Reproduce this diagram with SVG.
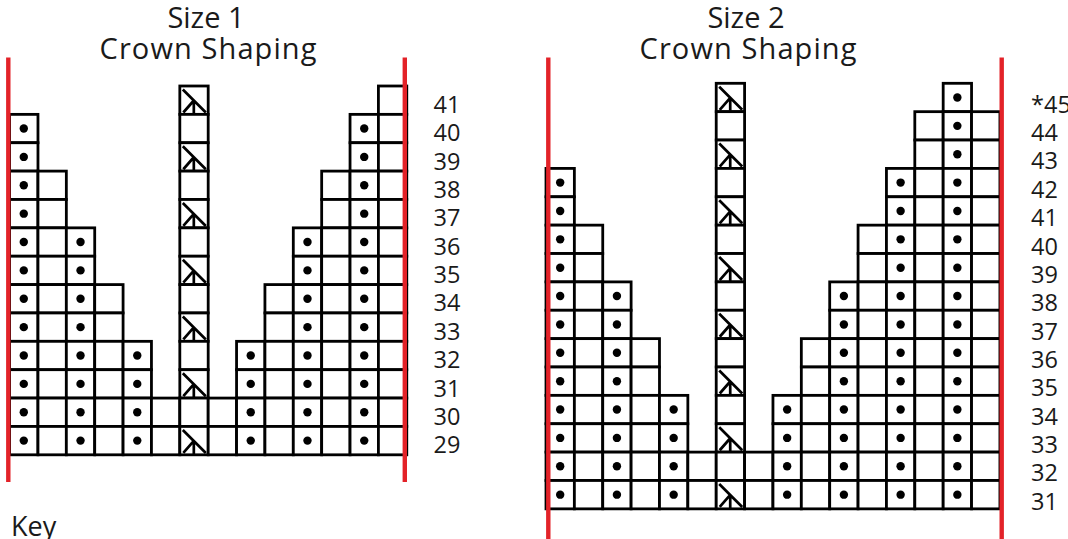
<svg xmlns="http://www.w3.org/2000/svg" xmlns:xlink="http://www.w3.org/1999/xlink" width="1068" height="539" viewBox="0 0 1068 539">
<style>
.cell{fill:#fff;stroke:#000;stroke-width:2.8}
.sym{fill:none;stroke:#000;stroke-width:2.7}
.dot{fill:#000}
.red{stroke:#e32228;stroke-width:4.4}
.t{font-family:"Open Sans","Liberation Sans",sans-serif;fill:#1a1a1a}
.title{font-size:29px;text-anchor:middle}
.lab{font-size:23.5px}
</style>
<defs>
<rect id="b" width="28.37" height="28.37" class="cell"/>
<g id="d"><use href="#b"/><circle cx="14.18" cy="14.18" r="4.2" class="dot"/></g>
<g id="s"><use href="#b"/><path d="M3,3.5 L26,26.5 M14,14.5 L3.5,26.5 M14,14.5 V27.5" class="sym"/></g>
</defs>
<rect width="1068" height="539" fill="#fff"/>

<g id="size1">
<g id="size1-title" class="t title">
<text x="206" y="28">Size 1</text>
<text x="208" y="58.5" textLength="217" lengthAdjust="spacing">Crown Shaping</text>
</g>
<g id="size1-grid" transform="translate(9.6,86)">
<g><use href="#s" x="170.22"/><use href="#b" x="368.81"/></g>
<g transform="translate(0,28.37)"><use href="#d"/><use href="#b" x="170.22"/><use href="#d" x="340.44"/><use href="#b" x="368.81"/></g>
<g transform="translate(0,56.74)"><use href="#d"/><use href="#s" x="170.22"/><use href="#d" x="340.44"/><use href="#b" x="368.81"/></g>
<g transform="translate(0,85.11)"><use href="#d"/><use href="#b" x="28.37"/><use href="#b" x="170.22"/><use href="#b" x="312.07"/><use href="#d" x="340.44"/><use href="#b" x="368.81"/></g>
<g transform="translate(0,113.48)"><use href="#d"/><use href="#b" x="28.37"/><use href="#s" x="170.22"/><use href="#b" x="312.07"/><use href="#d" x="340.44"/><use href="#b" x="368.81"/></g>
<g transform="translate(0,141.85)"><use href="#d"/><use href="#b" x="28.37"/><use href="#d" x="56.74"/><use href="#b" x="170.22"/><use href="#d" x="283.7"/><use href="#b" x="312.07"/><use href="#d" x="340.44"/><use href="#b" x="368.81"/></g>
<g transform="translate(0,170.22)"><use href="#d"/><use href="#b" x="28.37"/><use href="#d" x="56.74"/><use href="#s" x="170.22"/><use href="#d" x="283.7"/><use href="#b" x="312.07"/><use href="#d" x="340.44"/><use href="#b" x="368.81"/></g>
<g transform="translate(0,198.59)"><use href="#d"/><use href="#b" x="28.37"/><use href="#d" x="56.74"/><use href="#b" x="85.11"/><use href="#b" x="170.22"/><use href="#b" x="255.33"/><use href="#d" x="283.7"/><use href="#b" x="312.07"/><use href="#d" x="340.44"/><use href="#b" x="368.81"/></g>
<g transform="translate(0,226.96)"><use href="#d"/><use href="#b" x="28.37"/><use href="#d" x="56.74"/><use href="#b" x="85.11"/><use href="#s" x="170.22"/><use href="#b" x="255.33"/><use href="#d" x="283.7"/><use href="#b" x="312.07"/><use href="#d" x="340.44"/><use href="#b" x="368.81"/></g>
<g transform="translate(0,255.33)"><use href="#d"/><use href="#b" x="28.37"/><use href="#d" x="56.74"/><use href="#b" x="85.11"/><use href="#d" x="113.48"/><use href="#b" x="170.22"/><use href="#d" x="226.96"/><use href="#b" x="255.33"/><use href="#d" x="283.7"/><use href="#b" x="312.07"/><use href="#d" x="340.44"/><use href="#b" x="368.81"/></g>
<g transform="translate(0,283.7)"><use href="#d"/><use href="#b" x="28.37"/><use href="#d" x="56.74"/><use href="#b" x="85.11"/><use href="#d" x="113.48"/><use href="#s" x="170.22"/><use href="#d" x="226.96"/><use href="#b" x="255.33"/><use href="#d" x="283.7"/><use href="#b" x="312.07"/><use href="#d" x="340.44"/><use href="#b" x="368.81"/></g>
<g transform="translate(0,312.07)"><use href="#d"/><use href="#b" x="28.37"/><use href="#d" x="56.74"/><use href="#b" x="85.11"/><use href="#d" x="113.48"/><use href="#b" x="141.85"/><use href="#b" x="170.22"/><use href="#b" x="198.59"/><use href="#d" x="226.96"/><use href="#b" x="255.33"/><use href="#d" x="283.7"/><use href="#b" x="312.07"/><use href="#d" x="340.44"/><use href="#b" x="368.81"/></g>
<g transform="translate(0,340.44)"><use href="#d"/><use href="#b" x="28.37"/><use href="#d" x="56.74"/><use href="#b" x="85.11"/><use href="#d" x="113.48"/><use href="#b" x="141.85"/><use href="#s" x="170.22"/><use href="#b" x="198.59"/><use href="#d" x="226.96"/><use href="#b" x="255.33"/><use href="#d" x="283.7"/><use href="#b" x="312.07"/><use href="#d" x="340.44"/><use href="#b" x="368.81"/></g>
<g class="t lab">
<text x="423.9" y="26.87">41</text>
<text x="423.9" y="55.24">40</text>
<text x="423.9" y="83.61">39</text>
<text x="423.9" y="111.98">38</text>
<text x="423.9" y="140.35">37</text>
<text x="423.9" y="168.72">36</text>
<text x="423.9" y="197.09">35</text>
<text x="423.9" y="225.46">34</text>
<text x="423.9" y="253.83">33</text>
<text x="423.9" y="282.2">32</text>
<text x="423.9" y="310.57">31</text>
<text x="423.9" y="338.94">30</text>
<text x="423.9" y="367.31">29</text>
</g>
</g>
<line class="red" x1="8.3" y1="57.5" x2="8.3" y2="482"/>
<line class="red" x1="404.8" y1="57.5" x2="404.8" y2="482"/>
</g>

<g id="size2">
<g id="size2-title" class="t title">
<text x="746" y="28">Size 2</text>
<text x="748" y="58.5" textLength="217" lengthAdjust="spacing">Crown Shaping</text>
</g>
<g id="size2-grid" transform="translate(546,83.3)">
<g><use href="#s" x="170.22"/><use href="#d" x="397.18"/></g>
<g transform="translate(0,28.37)"><use href="#b" x="170.22"/><use href="#b" x="368.81"/><use href="#d" x="397.18"/><use href="#b" x="425.55"/></g>
<g transform="translate(0,56.74)"><use href="#s" x="170.22"/><use href="#b" x="368.81"/><use href="#d" x="397.18"/><use href="#b" x="425.55"/></g>
<g transform="translate(0,85.11)"><use href="#d"/><use href="#b" x="170.22"/><use href="#d" x="340.44"/><use href="#b" x="368.81"/><use href="#d" x="397.18"/><use href="#b" x="425.55"/></g>
<g transform="translate(0,113.48)"><use href="#d"/><use href="#s" x="170.22"/><use href="#d" x="340.44"/><use href="#b" x="368.81"/><use href="#d" x="397.18"/><use href="#b" x="425.55"/></g>
<g transform="translate(0,141.85)"><use href="#d"/><use href="#b" x="28.37"/><use href="#b" x="170.22"/><use href="#b" x="312.07"/><use href="#d" x="340.44"/><use href="#b" x="368.81"/><use href="#d" x="397.18"/><use href="#b" x="425.55"/></g>
<g transform="translate(0,170.22)"><use href="#d"/><use href="#b" x="28.37"/><use href="#s" x="170.22"/><use href="#b" x="312.07"/><use href="#d" x="340.44"/><use href="#b" x="368.81"/><use href="#d" x="397.18"/><use href="#b" x="425.55"/></g>
<g transform="translate(0,198.59)"><use href="#d"/><use href="#b" x="28.37"/><use href="#d" x="56.74"/><use href="#b" x="170.22"/><use href="#d" x="283.7"/><use href="#b" x="312.07"/><use href="#d" x="340.44"/><use href="#b" x="368.81"/><use href="#d" x="397.18"/><use href="#b" x="425.55"/></g>
<g transform="translate(0,226.96)"><use href="#d"/><use href="#b" x="28.37"/><use href="#d" x="56.74"/><use href="#s" x="170.22"/><use href="#d" x="283.7"/><use href="#b" x="312.07"/><use href="#d" x="340.44"/><use href="#b" x="368.81"/><use href="#d" x="397.18"/><use href="#b" x="425.55"/></g>
<g transform="translate(0,255.33)"><use href="#d"/><use href="#b" x="28.37"/><use href="#d" x="56.74"/><use href="#b" x="85.11"/><use href="#b" x="170.22"/><use href="#b" x="255.33"/><use href="#d" x="283.7"/><use href="#b" x="312.07"/><use href="#d" x="340.44"/><use href="#b" x="368.81"/><use href="#d" x="397.18"/><use href="#b" x="425.55"/></g>
<g transform="translate(0,283.7)"><use href="#d"/><use href="#b" x="28.37"/><use href="#d" x="56.74"/><use href="#b" x="85.11"/><use href="#s" x="170.22"/><use href="#b" x="255.33"/><use href="#d" x="283.7"/><use href="#b" x="312.07"/><use href="#d" x="340.44"/><use href="#b" x="368.81"/><use href="#d" x="397.18"/><use href="#b" x="425.55"/></g>
<g transform="translate(0,312.07)"><use href="#d"/><use href="#b" x="28.37"/><use href="#d" x="56.74"/><use href="#b" x="85.11"/><use href="#d" x="113.48"/><use href="#b" x="170.22"/><use href="#d" x="226.96"/><use href="#b" x="255.33"/><use href="#d" x="283.7"/><use href="#b" x="312.07"/><use href="#d" x="340.44"/><use href="#b" x="368.81"/><use href="#d" x="397.18"/><use href="#b" x="425.55"/></g>
<g transform="translate(0,340.44)"><use href="#d"/><use href="#b" x="28.37"/><use href="#d" x="56.74"/><use href="#b" x="85.11"/><use href="#d" x="113.48"/><use href="#s" x="170.22"/><use href="#d" x="226.96"/><use href="#b" x="255.33"/><use href="#d" x="283.7"/><use href="#b" x="312.07"/><use href="#d" x="340.44"/><use href="#b" x="368.81"/><use href="#d" x="397.18"/><use href="#b" x="425.55"/></g>
<g transform="translate(0,368.81)"><use href="#d"/><use href="#b" x="28.37"/><use href="#d" x="56.74"/><use href="#b" x="85.11"/><use href="#d" x="113.48"/><use href="#b" x="141.85"/><use href="#b" x="170.22"/><use href="#b" x="198.59"/><use href="#d" x="226.96"/><use href="#b" x="255.33"/><use href="#d" x="283.7"/><use href="#b" x="312.07"/><use href="#d" x="340.44"/><use href="#b" x="368.81"/><use href="#d" x="397.18"/><use href="#b" x="425.55"/></g>
<g transform="translate(0,397.18)"><use href="#d"/><use href="#b" x="28.37"/><use href="#d" x="56.74"/><use href="#b" x="85.11"/><use href="#d" x="113.48"/><use href="#b" x="141.85"/><use href="#s" x="170.22"/><use href="#b" x="198.59"/><use href="#d" x="226.96"/><use href="#b" x="255.33"/><use href="#d" x="283.7"/><use href="#b" x="312.07"/><use href="#d" x="340.44"/><use href="#b" x="368.81"/><use href="#d" x="397.18"/><use href="#b" x="425.55"/></g>
<g class="t lab">
<text x="485" y="29.37">*45</text>
<text x="485" y="57.74">44</text>
<text x="485" y="86.11">43</text>
<text x="485" y="114.48">42</text>
<text x="485" y="142.85">41</text>
<text x="485" y="171.22">40</text>
<text x="485" y="199.59">39</text>
<text x="485" y="227.96">38</text>
<text x="485" y="256.33">37</text>
<text x="485" y="284.7">36</text>
<text x="485" y="313.07">35</text>
<text x="485" y="341.44">34</text>
<text x="485" y="369.81">33</text>
<text x="485" y="398.18">32</text>
<text x="485" y="426.55">31</text>
</g>
</g>
<line class="red" x1="548.3" y1="57.5" x2="548.3" y2="539"/>
<line class="red" x1="1001.7" y1="57.5" x2="1001.7" y2="539"/>
</g>

<g id="key">
<text class="t" x="11" y="536" font-size="27">Key</text>
</g>
</svg>
